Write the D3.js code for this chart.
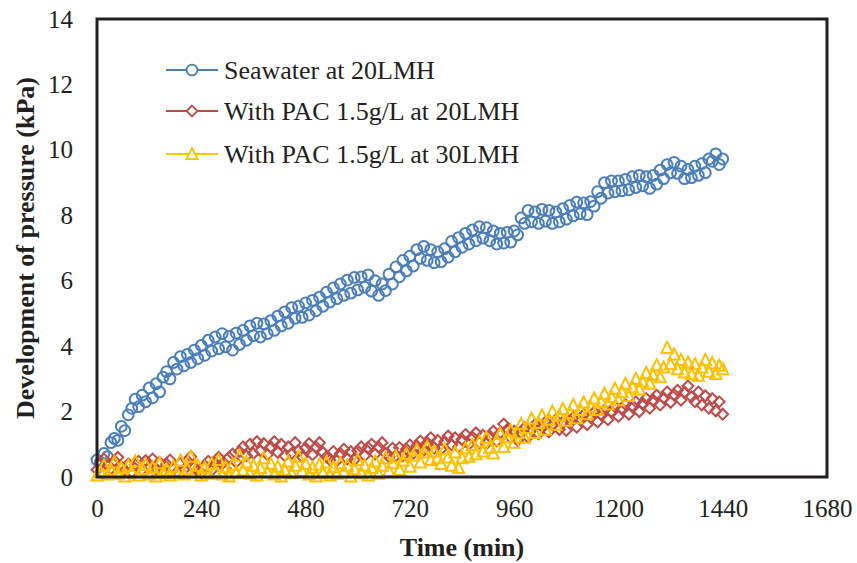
<!DOCTYPE html>
<html>
<head>
<meta charset="utf-8">
<script src="https://cdn.jsdelivr.net/npm/d3@7/dist/d3.min.js"></script>
<style>
  html, body { margin: 0; padding: 0; background: #fff; }
  svg { display: block; }
</style>
</head>
<body>
<svg id="chart" width="857" height="563"></svg>
<script>
// ---------------- DATA ----------------
const xTicks = [0, 240, 480, 720, 960, 1200, 1440, 1680];
const yTicks = [0, 2, 4, 6, 8, 10, 12, 14];
const seriesNames = ["Seawater at 20LMH", "With PAC 1.5g/L at 20LMH", "With PAC 1.5g/L at 30LMH"];

const sampleTimes = [
  0,8,16,24,32,40,48,56,64,72,80,88,96,104,112,120,128,136,144,152,
  160,168,176,184,192,200,208,216,224,232,240,248,256,264,272,280,288,296,304,312,
  320,328,336,344,352,360,368,376,384,392,400,408,416,424,432,440,448,456,464,472,
  480,488,496,504,512,520,528,536,544,552,560,568,576,584,592,600,608,616,624,632,
  640,648,656,664,672,680,688,696,704,712,720,728,736,744,752,760,768,776,784,792,
  800,808,816,824,832,840,848,856,864,872,880,888,896,904,912,920,928,936,944,952,
  960,968,976,984,992,1000,1008,1016,1024,1032,1040,1048,1056,1064,1072,1080,1088,1096,1104,1112,
  1120,1128,1136,1144,1152,1160,1168,1176,1184,1192,1200,1208,1216,1224,1232,1240,1248,1256,1264,1272,
  1280,1288,1296,1304,1312,1320,1328,1336,1344,1352,1360,1368,1376,1384,1392,1400,1408,1416,1424,1432,
  1440
];

const seawater20 = [
  0.52,0.45,0.72,0.62,1.05,1.18,1.12,1.55,1.42,1.90,2.10,2.38,2.15,2.50,2.30,2.72,2.42,2.85,2.60,3.05,
  3.22,3.00,3.50,3.30,3.68,3.40,3.75,3.50,3.88,3.62,4.02,3.72,4.18,3.85,4.28,3.92,4.38,3.98,4.30,3.88,
  4.40,4.05,4.48,4.18,4.62,4.32,4.70,4.28,4.68,4.38,4.78,4.48,4.92,4.62,5.05,4.70,5.18,4.85,5.22,4.88,
  5.32,4.95,5.40,5.08,5.50,5.22,5.65,5.35,5.78,5.45,5.90,5.55,6.02,5.62,6.10,5.72,6.12,5.80,6.18,5.68,
  6.00,5.55,5.90,5.70,6.20,5.90,6.42,6.12,6.62,6.30,6.75,6.45,6.95,6.68,7.05,6.62,6.95,6.55,6.88,6.58,
  6.98,6.72,7.20,6.88,7.32,7.02,7.45,7.12,7.55,7.22,7.65,7.30,7.62,7.22,7.52,7.12,7.45,7.15,7.48,7.18,
  7.52,7.40,7.92,7.75,8.15,7.80,8.10,7.75,8.18,7.82,8.15,7.75,8.10,7.80,8.20,7.88,8.30,7.98,8.40,8.05,
  8.38,8.02,8.42,8.28,8.72,8.52,9.00,8.68,9.05,8.72,9.05,8.75,9.10,8.78,9.18,8.85,9.22,8.90,9.18,8.82,
  9.22,8.95,9.38,9.12,9.55,9.30,9.62,9.28,9.50,9.12,9.40,9.15,9.50,9.22,9.58,9.30,9.72,9.65,9.88,9.55,
  9.72
];

const pac20 = [
  0.22,0.40,0.55,0.35,0.25,0.50,0.60,0.32,0.20,0.40,0.15,0.38,0.48,0.22,0.50,0.30,0.55,0.25,0.45,0.18,
  0.40,0.52,0.25,0.15,0.42,0.22,0.50,0.62,0.30,0.18,0.12,0.35,0.48,0.20,0.42,0.60,0.40,0.25,0.60,0.70,
  0.45,0.78,0.92,0.65,1.00,0.72,1.08,0.80,1.02,0.68,0.92,1.08,0.75,1.00,0.65,0.92,0.72,1.05,0.80,0.62,
  0.88,1.02,0.68,0.92,1.05,0.75,0.62,0.52,0.78,0.50,0.72,0.85,0.55,0.78,0.52,0.80,0.92,0.65,0.90,1.00,
  0.70,0.92,1.05,0.72,0.62,0.88,0.65,0.90,0.65,0.85,0.98,0.72,0.95,1.10,0.82,1.05,1.20,0.88,1.12,0.85,
  1.08,1.25,0.98,1.20,0.92,1.15,1.30,1.00,1.22,1.35,1.05,1.28,1.02,1.25,1.40,1.10,1.35,1.62,1.45,1.20,
  1.40,1.12,1.35,1.50,1.22,1.45,1.60,1.32,1.55,1.68,1.38,1.60,1.75,1.45,1.68,1.42,1.72,1.82,1.52,1.78,
  1.90,1.60,1.82,1.98,1.68,1.92,2.05,1.75,2.00,2.15,1.85,2.10,2.22,1.92,2.18,2.30,2.00,2.25,2.40,2.10,
  2.35,2.50,2.20,2.42,2.60,2.28,2.52,2.65,2.35,2.60,2.78,2.45,2.30,2.60,2.20,2.48,2.10,2.40,2.02,2.30,
  1.92
];

const pac30 = [
  0.05,0.15,0.35,0.08,0.22,0.45,0.10,0.28,0.02,0.35,0.15,0.48,0.05,0.25,0.38,0.08,0.30,0.02,0.42,0.12,
  0.22,0.05,0.32,0.12,0.50,0.08,0.25,0.62,0.15,0.35,0.05,0.28,0.10,0.40,0.18,0.52,0.08,0.30,0.02,0.38,
  0.12,0.65,0.20,0.45,0.10,0.35,0.05,0.28,0.58,0.15,0.40,0.08,0.32,0.02,0.22,0.48,0.12,0.35,0.62,0.18,
  0.40,0.08,0.28,0.02,0.38,0.12,0.45,0.05,0.30,0.10,0.42,0.15,0.35,0.02,0.25,0.52,0.12,0.35,0.05,0.28,
  0.48,0.10,0.35,0.58,0.18,0.42,0.62,0.22,0.50,0.70,0.32,0.65,0.82,0.45,0.75,0.92,0.52,0.78,0.58,0.40,
  0.85,0.60,0.35,0.75,0.28,0.58,0.88,0.62,0.98,0.70,1.08,0.78,1.20,0.90,0.72,1.12,1.32,0.92,1.22,1.42,
  1.05,1.35,1.62,1.20,1.50,1.78,1.35,1.65,1.88,1.45,1.75,2.00,1.60,1.88,2.08,1.72,1.95,2.20,1.80,2.05,
  2.28,1.92,2.15,2.40,2.05,2.30,2.55,2.22,2.45,2.70,2.35,2.60,2.85,2.48,2.75,3.00,2.68,2.92,3.18,2.85,
  3.12,3.42,3.05,3.35,3.95,3.45,3.75,3.30,3.58,3.20,3.50,3.15,3.45,3.10,3.35,3.58,3.22,3.48,3.15,3.40,
  3.30
];

// ---------------- LAYOUT ----------------
const svg = d3.select("#chart");
const plot = { left: 97, right: 827, top: 19, bottom: 477 };

const x = d3.scaleLinear().domain([0, 1680]).range([plot.left, plot.right]);
const y = d3.scaleLinear().domain([0, 14]).range([plot.bottom, plot.top]);

const colors = ["#4A7EBB", "#BE4B48", "#FFC000"];
const serif = "'Liberation Serif', 'Times New Roman', serif";

function markerPath(kind) {
  if (kind === 0) {
    const r = 5.4;
    return `M${r},0A${r},${r} 0 1,1 ${-r},0A${r},${r} 0 1,1 ${r},0Z`;
  } else if (kind === 1) {
    const r = 5.4;
    return `M0,${-r}L${r},0L0,${r}L${-r},0Z`;
  } else {
    const h = 6, w = 5.6;
    return `M0,${-h}L${w},${h*0.85}L${-w},${h*0.85}Z`;
  }
}

// axes (labels only, no tick marks)
const xAxis = d3.axisBottom(x).tickValues(xTicks).tickSize(0).tickPadding(22).tickFormat(d3.format("d"));
const yAxis = d3.axisLeft(y).tickValues(yTicks).tickSize(0).tickPadding(24).tickFormat(d3.format("d"));

const gx = svg.append("g").attr("transform", `translate(0,${plot.bottom})`).call(xAxis);
const gy = svg.append("g").attr("transform", `translate(${plot.left},0)`).call(yAxis);
[gx, gy].forEach(g => {
  g.select(".domain").remove();
  g.selectAll("text").attr("font-family", serif).attr("font-size", 25).attr("fill", "#231F20");
});

// series markers
const allSeries = [seawater20, pac20, pac30];
allSeries.forEach((vals, i) => {
  svg.append("g")
    .selectAll("path")
    .data(sampleTimes.map((t, k) => [t, vals[k]]))
    .join("path")
    .attr("d", markerPath(i))
    .attr("transform", d => `translate(${x(d[0])},${y(d[1])})`)
    .attr("fill", "none")
    .attr("stroke", colors[i])
    .attr("stroke-width", 2);
});

// frame
svg.append("rect")
  .attr("x", plot.left).attr("y", plot.top)
  .attr("width", plot.right - plot.left).attr("height", plot.bottom - plot.top)
  .attr("fill", "none").attr("stroke", "#231F20").attr("stroke-width", 3);

// legend
const legendRows = [70, 111, 154];
seriesNames.forEach((name, i) => {
  const g = svg.append("g").attr("transform", `translate(0,${legendRows[i]})`);
  g.append("line").attr("x1", 166).attr("x2", 218).attr("y1", 0).attr("y2", 0)
    .attr("stroke", colors[i]).attr("stroke-width", 1.8);
  g.append("path").attr("d", markerPath(i)).attr("transform", "translate(192,0)")
    .attr("fill", "#fff").attr("stroke", colors[i]).attr("stroke-width", 1.8);
  g.append("text").attr("x", 224).attr("y", 0).attr("dy", "0.34em")
    .attr("font-family", serif).attr("font-size", 26).attr("fill", "#231F20")
    .text(name);
});

// axis titles
svg.append("text")
  .attr("x", (plot.left + plot.right) / 2).attr("y", 556)
  .attr("text-anchor", "middle")
  .attr("font-family", serif).attr("font-size", 26).attr("font-weight", "bold").attr("fill", "#231F20")
  .text("Time (min)");

svg.append("text")
  .attr("transform", `translate(34,${(plot.top + plot.bottom) / 2}) rotate(-90)`)
  .attr("text-anchor", "middle")
  .attr("font-family", serif).attr("font-size", 26).attr("font-weight", "bold").attr("fill", "#231F20")
  .text("Development of pressure (kPa)");
</script>
</body>
</html>
